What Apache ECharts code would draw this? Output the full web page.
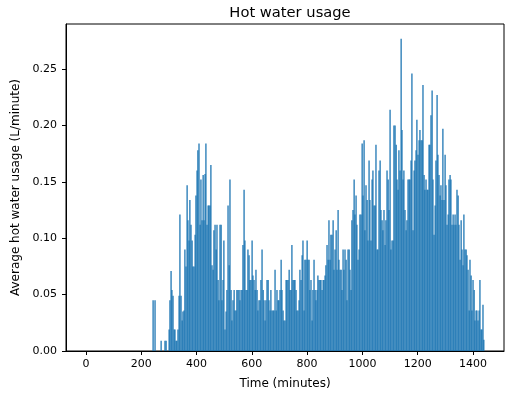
<!DOCTYPE html>
<html><head><meta charset="utf-8">
<script src="https://cdn.jsdelivr.net/npm/echarts@6/dist/echarts.min.js"></script>
<style>html,body{margin:0;padding:0;background:#fff}#c{width:505px;height:397px}</style>
</head><body><div id="c"></div>
<script>
const minutes = [243,250,272,286,290,
301,304,308,311,315,319,322,326,329,333,
337,340,344,348,351,355,358,362,366,369,
373,376,380,384,387,391,395,398,402,405,
409,413,416,420,424,427,431,434,438,442,
445,449,452,456,460,463,467,471,474,478,
481,485,489,492,496,499,503,507,510,514,
518,521,525,528,532,536,539,543,546,550,
554,557,561,565,568,572,575,579,583,586,
590,593,597,601,604,608,612,615,619,622,
626,630,633,637,641,644,648,651,655,659,
662,666,669,673,677,680,684,688,691,695,
698,702,706,709,713,716,720,724,727,731,
735,738,742,745,749,753,756,760,763,767,
771,774,778,782,785,789,792,796,800,803,
807,810,814,818,821,825,829,832,836,839,
843,847,850,854,858,861,865,868,872,876,
879,883,886,890,894,897,901,905,908,912,
915,919,923,926,930,933,937,941,944,948,
952,955,959,962,966,970,973,977,980,984,
988,991,995,999,1002,1006,1009,1013,1017,1020,
1024,1027,1031,1035,1038,1042,1046,1049,1053,1056,
1060,1064,1067,1071,1074,1078,1082,1085,1089,1093,
1096,1100,1103,1107,1111,1114,1118,1122,1125,1129,
1132,1136,1140,1143,1147,1150,1154,1158,1161,1165,
1169,1172,1176,1179,1183,1187,1190,1194,1197,1201,
1205,1208,1212,1216,1219,1223,1226,1230,1234,1237,
1241,1244,1248,1252,1255,1259,1263,1266,1270,1273,
1277,1281,1284,1288,1291,1295,1299,1302,1306,1310,
1313,1317,1320,1324,1328,1331,1335,1338,1342,1346,
1349,1353,1357,1360,1364,1367,1371,1375,1378,1382,
1386,1389,1393,1396,1400,1404,1407,1411,1414,1418,
1422,1425,1429,1432,1436,1439];
const usage = [0.045,0.045,0.009,0.009,0.009,
0.019,0.045,0.071,0.054,0.049,0.019,0.019,0.009,0.009,0.019,
0.049,0.121,0.049,0.027,0.035,0.036,0.090,0.075,0.147,0.116,
0.098,0.134,0.112,0.098,0.075,0.075,0.103,0.138,0.160,0.178,
0.184,0.112,0.152,0.116,0.156,0.116,0.157,0.184,0.112,0.129,
0.129,0.129,0.165,0.076,0.072,0.107,0.112,0.090,0.112,0.063,
0.045,0.112,0.112,0.045,0.063,0.098,0.019,0.035,0.054,0.129,
0.076,0.152,0.054,0.027,0.045,0.054,0.036,0.036,0.054,0.054,
0.054,0.045,0.054,0.054,0.094,0.143,0.098,0.054,0.054,0.090,
0.085,0.063,0.063,0.098,0.067,0.063,0.054,0.072,0.054,0.036,
0.045,0.045,0.063,0.090,0.054,0.045,0.027,0.045,0.063,0.063,
0.045,0.036,0.054,0.036,0.036,0.036,0.072,0.036,0.054,0.045,
0.045,0.054,0.081,0.054,0.036,0.027,0.027,0.063,0.063,0.063,
0.072,0.054,0.054,0.094,0.063,0.063,0.063,0.054,0.036,0.036,
0.045,0.072,0.063,0.085,0.098,0.036,0.081,0.081,0.098,0.081,
0.081,0.054,0.063,0.027,0.054,0.081,0.054,0.045,0.054,0.067,
0.063,0.063,0.063,0.054,0.063,0.063,0.067,0.076,0.094,0.081,
0.116,0.081,0.103,0.103,0.116,0.072,0.090,0.107,0.072,0.125,
0.081,0.072,0.072,0.054,0.090,0.072,0.090,0.081,0.045,0.090,
0.090,0.072,0.054,0.116,0.125,0.152,0.121,0.138,0.112,0.081,
0.090,0.121,0.121,0.184,0.138,0.187,0.107,0.147,0.134,0.098,
0.169,0.134,0.098,0.152,0.160,0.129,0.129,0.183,0.090,0.090,
0.160,0.169,0.125,0.116,0.107,0.125,0.094,0.116,0.160,0.152,
0.125,0.214,0.090,0.098,0.098,0.200,0.200,0.183,0.152,0.143,
0.178,0.160,0.277,0.196,0.152,0.160,0.125,0.107,0.116,0.152,
0.152,0.152,0.169,0.246,0.107,0.160,0.169,0.178,0.205,0.174,
0.187,0.196,0.187,0.187,0.236,0.156,0.143,0.152,0.143,0.143,
0.183,0.183,0.209,0.231,0.152,0.103,0.129,0.169,0.227,0.174,
0.156,0.138,0.147,0.134,0.197,0.134,0.174,0.147,0.112,0.121,
0.152,0.156,0.152,0.112,0.121,0.112,0.121,0.112,0.143,0.138,
0.112,0.081,0.116,0.090,0.076,0.121,0.090,0.090,0.085,0.072,
0.036,0.081,0.067,0.036,0.063,0.054,0.027,0.036,0.036,0.027,
0.036,0.063,0.019,0.019,0.041,0.010];
const xTicks = [0,200,400,600,800,1000,1200,1400];
const yTicks = [0,0.05,0.10,0.15,0.20,0.25];

const font = 'DejaVu Sans';
const chart = echarts.init(document.getElementById('c'), null, {renderer:'canvas'});
chart.setOption({
  animation:false,
  title:{text:'Hot water usage', left:285, top:1, textAlign:'center',
    textStyle:{fontFamily:font, fontSize:14.7, fontWeight:'normal', color:'#000'}},
  grid:{left:66, right:1, top:24, bottom:46, show:true, borderColor:'#000', borderWidth:1, backgroundColor:'transparent'},
  xAxis:{type:'value', min:-72, max:1512,
    name:'Time (minutes)', nameLocation:'middle', nameGap:27,
    nameTextStyle:{fontFamily:font, fontSize:12, color:'#000'},
    axisLine:{show:true, onZero:false, lineStyle:{color:'#000'}},
    axisTick:{show:true, length:4, customValues:xTicks, lineStyle:{color:'#000'}},
    axisLabel:{customValues:xTicks, fontFamily:font, fontSize:11, color:'#000', margin:8,
      formatter:v=>String(v)},
    splitLine:{show:false}},
  yAxis:{type:'value', min:0, max:0.29,
    name:'Average hot water usage (L/minute)', nameLocation:'middle', nameGap:43,
    nameTextStyle:{fontFamily:font, fontSize:12, color:'#000'},
    axisLine:{show:true, onZero:false, lineStyle:{color:'#000'}},
    axisTick:{show:true, length:4, customValues:yTicks, lineStyle:{color:'#000'}},
    axisLabel:{customValues:yTicks, fontFamily:font, fontSize:11, color:'#000', margin:9,
      formatter:v=>v.toFixed(2)},
    splitLine:{show:false}},
  series:[{type:'bar', barWidth:1.3, itemStyle:{color:'#1f77b4'},
    data:minutes.map((m,i)=>[m, usage[i]])}]
});
</script></body></html>
